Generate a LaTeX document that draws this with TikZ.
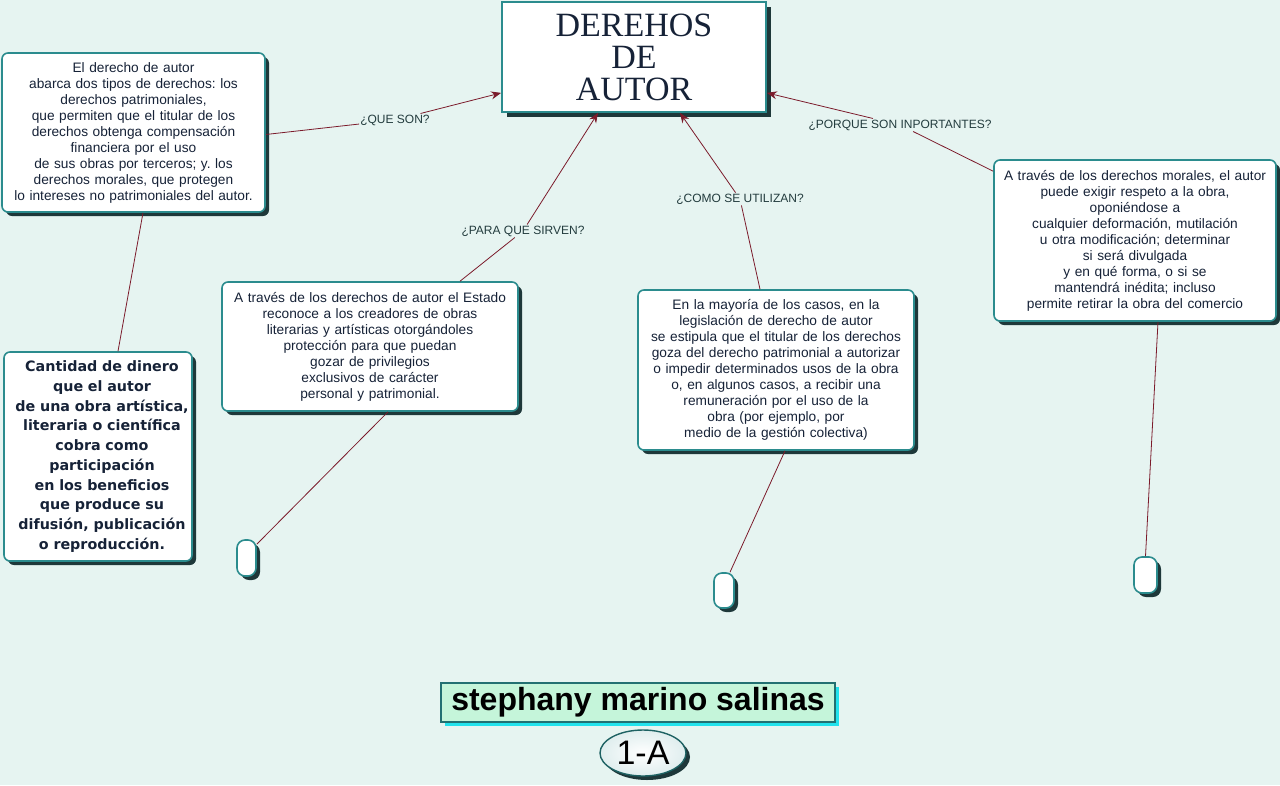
\documentclass[tikz,border=0pt]{standalone}
\usepackage{fontspec}
\setmainfont{Liberation Sans}
\newfontfamily\titlefont{Liberation Serif}
\newfontfamily\widebold{DejaVu Sans}
\frenchspacing
\usetikzlibrary{shadows,shapes.geometric,arrows.meta}
\definecolor{bgc}{RGB}{230,244,241}
\definecolor{bordc}{RGB}{43,140,142}
\definecolor{shadc}{RGB}{30,56,58}
\definecolor{linec}{RGB}{123,27,43}
\definecolor{txtc}{RGB}{22,34,55}
\definecolor{labc}{RGB}{35,60,62}
\definecolor{namefill}{RGB}{197,245,218}
\definecolor{namesh}{RGB}{34,226,236}
\tikzset{
  cbox/.style={draw=bordc, line width=1.6pt, fill=white, rounded corners=6pt,
    align=center, inner sep=3pt, text=txtc, font=\fontsize{13.7}{16}\selectfont,
    drop shadow={shadow xshift=4pt, shadow yshift=-4pt, fill=shadc, opacity=1}},
  pill/.style={draw=bordc, line width=1.6pt, fill=white, rounded corners=8pt,
    inner sep=0pt,
    drop shadow={shadow xshift=4pt, shadow yshift=-4pt, fill=shadc, opacity=1}},
  lab/.style={text=labc, font=\fontsize{12}{14}\selectfont, inner sep=1pt},
  conn/.style={draw=linec, line width=0.8pt},
  arr/.style={conn, -{Stealth[length=10pt,width=8pt]}}
}
\begin{document}
\begin{tikzpicture}[x=1pt,y=-1pt]
\useasboundingbox[fill=bgc] (0,0) rectangle (1280,785);

% title
\node[draw=bordc, line width=1.8pt, fill=white, minimum width=264, minimum height=110,
  inner sep=0pt, align=center, text=txtc,
  font=\titlefont\fontsize{34}{32}\selectfont,
  drop shadow={shadow xshift=5pt, shadow yshift=-5pt, fill=shadc, opacity=1}]
  (title) at (634,57) {DEREHOS\\DE\\AUTOR};

% boxes
\node[cbox, text width=257, minimum height=159] (b1) at (133.5,132.5)
 {El derecho de autor\\abarca dos tipos de derechos: los\\derechos patrimoniales,\\que permiten que el titular de los\\derechos obtenga compensación\\financiera por el uso\\de sus obras por terceros; y. los\\derechos morales, que protegen\\lo intereses no patrimoniales del autor.};

\node[cbox, text width=182, minimum height=209, font=\widebold\bfseries\fontsize{14.3}{19.7}\selectfont] (cant) at (98,456.5)
 {\hspace*{8pt}Cantidad de dinero\\\hspace*{8pt}que el autor\\\hspace*{8pt}de una obra artística,\\\hspace*{8pt}literaria o científica\\\hspace*{8pt}cobra como\\\hspace*{8pt}participación\\\hspace*{8pt}en los beneficios\\\hspace*{8pt}que produce su\\\hspace*{8pt}difusión, publicación\\\hspace*{8pt}o reproducción.};

\node[cbox, text width=290, minimum height=129] (b3) at (370,346.5)
 {A través de los derechos de autor el Estado\\reconoce a los creadores de obras\\literarias y artísticas otorgándoles\\protección para que puedan\\gozar de privilegios\\exclusivos de carácter\\personal y patrimonial.};

\node[cbox, text width=270, minimum height=160] (b4) at (776,370)
 {En la mayoría de los casos, en la\\legislación de derecho de autor\\se estipula que el titular de los derechos\\goza del derecho patrimonial a autorizar\\o impedir determinados usos de la obra\\o, en algunos casos, a recibir una\\remuneración por el uso de la\\obra (por ejemplo, por\\medio de la gestión colectiva)};

\node[cbox, text width=276, minimum height=161] (b5) at (1135,240.5)
 {A través de los derechos morales, el autor\\puede exigir respeto a la obra,\\oponiéndose a\\cualquier deformación, mutilación\\u otra modificación; determinar\\si será divulgada\\y en qué forma, o si se\\mantendrá inédita; incluso\\permite retirar la obra del comercio};

% pills
\node[pill, minimum width=19, minimum height=36] (p1) at (246.5,558) {};
\node[pill, minimum width=20, minimum height=35] (p2) at (724,590.5) {};
\node[pill, minimum width=23, minimum height=36] (p3) at (1145.5,575) {};

% labels
\node[lab] (l1) at (395,120) {¿QUE SON?};
\node[lab] (l3) at (523,231) {¿PARA QUE SIRVEN?};
\node[lab] (l4) at (740,199) {¿COMO SE UTILIZAN?};
\node[lab] (l5) at (900,125) {¿PORQUE SON INPORTANTES?};

% connectors
\draw[conn] ([yshift=-2]b1.east) -- (l1);
\draw[arr] (l1) -- ([yshift=20]title.south west);
\draw[conn] ([xshift=90]b3.north) -- (l3);
\draw[arr] (l3) -- ([xshift=-36]title.south);
\draw[conn] ([xshift=-16]b4.north) -- (l4);
\draw[arr] (l4) -- ([xshift=46]title.south);
\draw[conn] ([yshift=-12]b5.north west) -- (l5);
\draw[arr] (l5) -- ([yshift=20]title.south east);

\draw[conn] ([xshift=9.5]b1.south) -- ([xshift=20]cant.north);
\draw[conn] ([xshift=18]b3.south) -- ([yshift=-5]p1.north east);
\draw[conn] ([xshift=9]b4.south) -- ([xshift=6]p2.north);
\draw[conn] ([xshift=23]b5.south) -- (p3.north);

% name and group
\node[draw=bordc!80!black, line width=1.2pt, fill=namefill, minimum width=394, minimum height=39,
  inner sep=0pt, font=\bfseries\fontsize{32}{32}\selectfont, text=black,
  drop shadow={shadow xshift=4pt, shadow yshift=-4pt, fill=namesh, opacity=1}]
  (name) at (638,702.5) {stephany marino salinas};
\node[ellipse, draw=bordc!70!black, line width=1.4pt, inner color=white, outer color=bordc!15,
  minimum width=86, minimum height=46, inner sep=0pt, font=\fontsize{34}{34}\selectfont, text=black,
  drop shadow={shadow xshift=4pt, shadow yshift=-4pt, fill=shadc, opacity=1}]
  (grp) at (643,753) {1-A};
\end{tikzpicture}
\end{document}
